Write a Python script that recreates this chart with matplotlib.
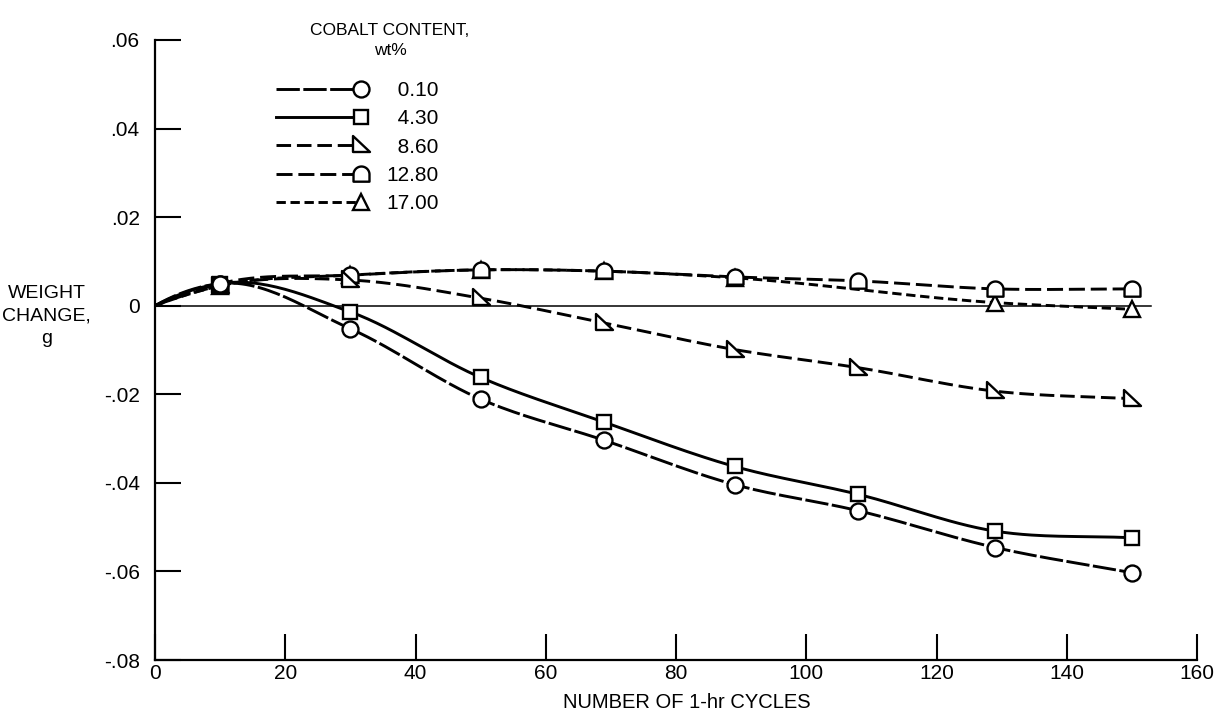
import numpy as np
import matplotlib
matplotlib.use("Agg")
import matplotlib.pyplot as plt
from matplotlib.lines import Line2D
from matplotlib.path import Path
from matplotlib.legend_handler import HandlerLine2D
from matplotlib import font_manager as fm

# ---------------- data ----------------
series_labels = ["0.10", "4.30", "8.60", "12.80", "17.00"]
cycles = [10, 30, 50, 69, 89, 108, 129, 150]
co_0_10 = [0.0050, -0.0052, -0.0211, -0.0304, -0.0404, -0.0463, -0.0546, -0.0603]
co_4_30 = [0.0050, -0.0014, -0.0162, -0.0263, -0.0363, -0.0426, -0.0509, -0.0524]
co_8_60 = [0.0045, 0.0058, 0.0017, -0.0039, -0.0099, -0.0140, -0.0193, -0.0210]
co_12_80 = [0.0050, 0.0069, 0.0081, 0.0078, 0.0065, 0.0056, 0.0038, 0.0038]
cycles_17 = [10, 30, 50, 69, 89, 129, 150]
co_17_00 = [0.0045, 0.0069, 0.0081, 0.0078, 0.0063, 0.0007, -0.0008]
start_cycle = 0
start_change = 0.0

x_ticks = [0, 20, 40, 60, 80, 100, 120, 140, 160]
x_ticklabels = ["0", "20", "40", "60", "80", "100", "120", "140", "160"]
y_ticks = [0.06, 0.04, 0.02, 0.0, -0.02, -0.04, -0.06, -0.08]
y_ticklabels = [".06", ".04", ".02", "0", "-.02", "-.04", "-.06", "-.08"]

# ---------------- fonts ----------------
names = {f.name for f in fm.fontManager.ttflist}
if "Liberation Sans Narrow" in names:
    FAMILY = ["Liberation Sans Narrow", "DejaVu Sans"]
elif "Liberation Sans" in names:
    FAMILY = ["Liberation Sans", "DejaVu Sans"]
else:
    FAMILY = ["DejaVu Sans"]
plt.rcParams["font.family"] = FAMILY


# ---------------- helpers ----------------
def smooth(xs, ys, n=30):
    """Cubic Hermite curve through the points (for drawing the line only)."""
    xs = np.asarray(xs, float)
    ys = np.asarray(ys, float)
    m = np.gradient(ys, xs, edge_order=2)
    m[-1] = (ys[-1] - ys[-2]) / (xs[-1] - xs[-2])
    ox, oy = [], []
    t = np.linspace(0, 1, n, endpoint=False)
    h00 = 2 * t**3 - 3 * t**2 + 1
    h10 = t**3 - 2 * t**2 + t
    h01 = -2 * t**3 + 3 * t**2
    h11 = t**3 - t**2
    for i in range(len(xs) - 1):
        h = xs[i + 1] - xs[i]
        ox.append(xs[i] + t * h)
        oy.append(h00 * ys[i] + h10 * h * m[i] + h01 * ys[i + 1] + h11 * h * m[i + 1])
    ox.append([xs[-1]])
    oy.append([ys[-1]])
    return np.concatenate(ox), np.concatenate(oy)


# arch ("tombstone") marker and right-triangle marker
theta = np.linspace(0, np.pi, 40)
arch_verts = [(1.0, -0.9)] + [(np.cos(a), np.sin(a)) for a in theta] + [(-1.0, -0.9), (1.0, -0.9)]
arch_codes = [Path.MOVETO] + [Path.LINETO] * (len(arch_verts) - 2) + [Path.CLOSEPOLY]
ARCH = Path(arch_verts, arch_codes)
RTRI = Path([(-0.9, 1.0), (-0.9, -0.8), (1.0, -0.8), (-0.9, 1.0)],
            [Path.MOVETO, Path.LINETO, Path.LINETO, Path.CLOSEPOLY])

LW = 2.1
styles = {
    "0.10": dict(marker="o", ms=11.5, dashes=(8, 1.2)),
    "4.30": dict(marker="s", ms=10.5, dashes=None),
    "8.60": dict(marker=RTRI, ms=12.5, dashes=(5, 2.0)),
    "12.80": dict(marker=ARCH, ms=11.5, dashes=(5.5, 2.0)),
    "17.00": dict(marker="^", ms=12.0, dashes=(3.2, 1.6)),
}
data = {
    "0.10": (cycles, co_0_10),
    "4.30": (cycles, co_4_30),
    "8.60": (cycles, co_8_60),
    "12.80": (cycles, co_12_80),
    "17.00": (cycles_17, co_17_00),
}

# ---------------- figure ----------------
fig = plt.figure(figsize=(12.19, 7.20), dpi=100)
fig.patch.set_facecolor("white")
ax = fig.add_axes([155 / 1219, 60 / 720, 1042 / 1219, 620 / 720])
ax.set_xlim(0, 160)
ax.set_ylim(-0.08, 0.06)

ax.axhline(0, xmin=0, xmax=153 / 160, color="black", lw=1.1, zorder=1)

order = ["17.00", "12.80", "8.60", "4.30", "0.10"]
for lab in order:
    xs, ys = data[lab]
    st = styles[lab]
    cx, cy = smooth([start_cycle] + list(xs), [start_change] + list(ys))
    line, = ax.plot(cx, cy, color="black", lw=LW, zorder=2,
                    solid_capstyle="butt", dash_capstyle="butt")
    if st["dashes"] is not None:
        line.set_dashes(st["dashes"])
    ax.plot(xs, ys, linestyle="none", marker=st["marker"], ms=st["ms"],
            mfc="white", mec="black", mew=1.7, zorder=3)

handles = []
for lab in series_labels:
    st = styles[lab]
    h = Line2D([], [], color="black", lw=LW, marker=st["marker"], ms=st["ms"],
               mfc="white", mec="black", mew=1.7)
    if st["dashes"] is not None:
        h.set_dashes(st["dashes"])
    handles.append(h)


class EndMarkerHandler(HandlerLine2D):
    def create_artists(self, legend, orig_handle, xdescent, ydescent,
                       width, height, fontsize, trans):
        xdata = np.array([-xdescent, width - xdescent], float)
        ydata = np.full_like(xdata, (height - ydescent) / 2)
        ln = Line2D(xdata, ydata)
        self.update_prop(ln, orig_handle, legend)
        ln.set_markevery([1])
        ln.set_transform(trans)
        return [ln]


leg_labels = [("\u2007" + s if len(s) == 4 else s) for s in series_labels]
leg = ax.legend(handles, leg_labels,
                loc="upper left", bbox_to_anchor=(0.1157, 0.934),
                frameon=False, fontsize=15,
                handlelength=4.1, handletextpad=1.2, labelspacing=0.45,
                borderpad=0, borderaxespad=0,
                handler_map={Line2D: EndMarkerHandler()})
ax.text((390 - 155) / 1042, 0.999, "COBALT CONTENT,\nwt%", transform=ax.transAxes,
        ha="center", va="center", multialignment="center", fontsize=12.5,
        linespacing=1.45)

# axes styling
for s in ["top", "right"]:
    ax.spines[s].set_visible(False)
for s in ["left", "bottom"]:
    ax.spines[s].set_linewidth(1.6)
ax.set_xticks(x_ticks)
ax.set_xticklabels(x_ticklabels)
ax.set_yticks(y_ticks)
ax.set_yticklabels(y_ticklabels)
ax.tick_params(axis="both", direction="in", length=19, width=1.5,
               labelsize=15, colors="black")
ax.tick_params(axis="x", pad=3)
ax.tick_params(axis="y", pad=11)

ax.set_xlabel("NUMBER OF 1-hr CYCLES", fontsize=14.5)
ax.xaxis.set_label_coords(0.51, -0.053)
ax.set_ylabel("WEIGHT\nCHANGE,\ng", rotation=0, fontsize=14,
              ha="center", va="center", linespacing=1.4)
ax.yaxis.set_label_coords(-0.104, 0.555)

fig.savefig("out.png", dpi=100, facecolor="white")
